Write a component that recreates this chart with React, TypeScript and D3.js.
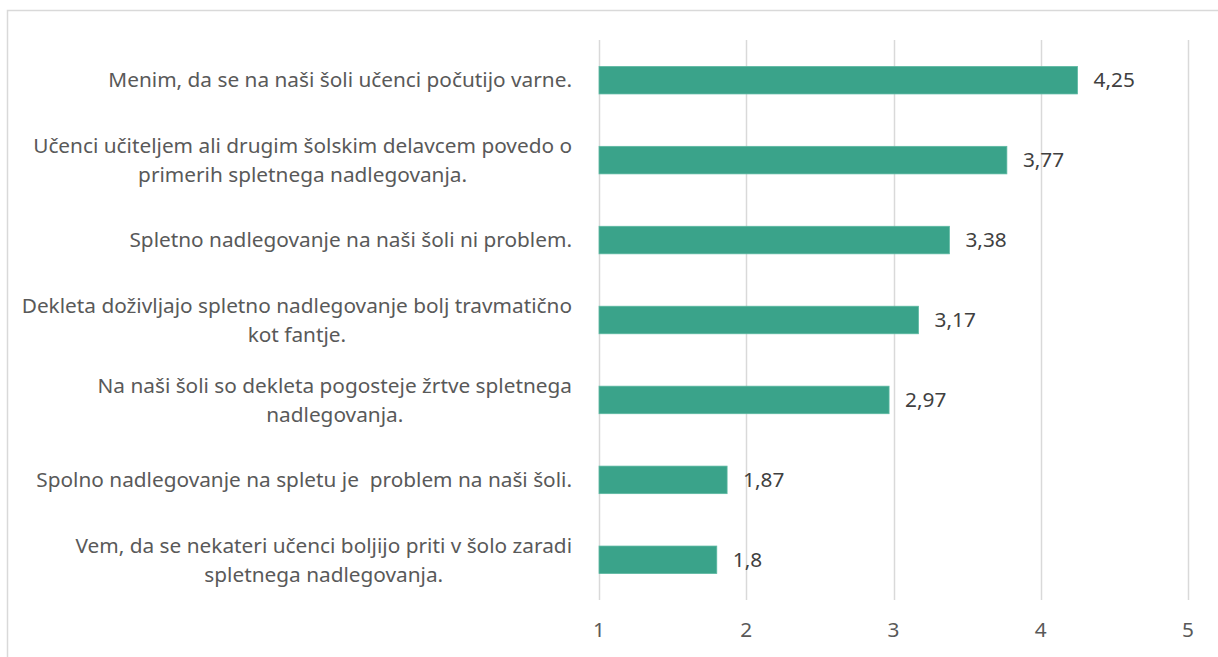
import { useRef, useEffect } from "react";
import * as d3 from "d3";

const categories = [
  "Menim, da se na naši šoli učenci počutijo varne.",
  "Učenci učiteljem ali drugim šolskim delavcem povedo o\nprimerih spletnega nadlegovanja.",
  "Spletno nadlegovanje na naši šoli ni problem.",
  "Dekleta doživljajo spletno nadlegovanje bolj travmatično\nkot fantje.",
  "Na naši šoli so dekleta pogosteje žrtve spletnega \nnadlegovanja.",
  "Spolno nadlegovanje na spletu je  problem na naši šoli.",
  "Vem, da se nekateri učenci boljijo priti v šolo zaradi\nspletnega nadlegovanja.",
];
const values = [4.25, 3.77, 3.38, 3.17, 2.97, 1.87, 1.8];
const xTicks = [1, 2, 3, 4, 5];

const WIDTH = 1218;
const HEIGHT = 657;
const FONT = "'Noto Sans', 'Open Sans', sans-serif";
const FONT_SIZE = "20.8px";
const BAR_COLOR = "#3AA38A";
const GRID = "#D9D9D9";
const LABEL_COLOR = "#595959";

const App = () => {
  const svgRef = useRef<SVGSVGElement>(null);

  useEffect(() => {
    const svg = d3.select(svgRef.current);
    svg.selectAll("*").remove();

    const margin = { top: 40, right: 30, bottom: 57, left: 599 };
    const chartWidth = 1188 - margin.left;
    const chartHeight = HEIGHT - margin.top - margin.bottom;

    svg
      .append("rect")
      .attr("x", 7.5)
      .attr("y", 10.5)
      .attr("width", WIDTH)
      .attr("height", HEIGHT)
      .attr("fill", "#fff")
      .attr("stroke", GRID)
      .attr("stroke-width", 1.5);

    const g = svg.append("g").attr("transform", `translate(${margin.left},${margin.top})`);

    const xScale = d3.scaleLinear().domain([1, 5]).range([0, chartWidth]);
    const yScale = d3
      .scaleBand()
      .domain(categories)
      .range([0, chartHeight])
      .paddingInner(0.655)
      .paddingOuter(0.33);

    g.selectAll(".grid-x")
      .data(xTicks)
      .enter()
      .append("line")
      .attr("x1", (d) => Math.round(xScale(d)) + 0.5)
      .attr("x2", (d) => Math.round(xScale(d)) + 0.5)
      .attr("y1", 0)
      .attr("y2", chartHeight)
      .style("stroke", GRID)
      .style("stroke-width", 1.5);

    g.selectAll(".tick-label")
      .data(xTicks)
      .enter()
      .append("text")
      .attr("x", (d) => xScale(d))
      .attr("y", chartHeight + 30)
      .attr("dy", "0.35em")
      .attr("text-anchor", "middle")
      .style("font-family", FONT)
      .style("font-size", FONT_SIZE)
      .style("fill", LABEL_COLOR)
      .text((d) => d);

    g.selectAll(".bar")
      .data(values)
      .enter()
      .append("rect")
      .attr("x", xScale(1))
      .attr("y", (d, i) => yScale(categories[i]))
      .attr("width", (d) => xScale(d) - xScale(1))
      .attr("height", yScale.bandwidth())
      .attr("fill", BAR_COLOR)
      .attr("stroke", "#5DB9A2")
      .attr("stroke-width", 0.75);

    g.selectAll(".value")
      .data(values)
      .enter()
      .append("text")
      .attr("x", (d) => xScale(d) + 16)
      .attr("y", (d, i) => yScale(categories[i]) + yScale.bandwidth() / 2)
      .attr("dy", "0.35em")
      .style("font-family", FONT)
      .style("font-size", FONT_SIZE)
      .style("fill", "#404040")
      .text((d) => String(d).replace(".", ","));

    // category labels: wrapped lines centred in a block that is right-aligned
    const labelRight = 572;
    const lineHeight = 29;
    categories.forEach((cat) => {
      const lines = cat.split("\n");
      const cy = yScale(cat) + yScale.bandwidth() / 2 + margin.top;
      const t = svg
        .append("text")
        .style("font-family", FONT)
        .style("font-size", FONT_SIZE)
        .style("fill", LABEL_COLOR)
        .attr("text-anchor", "middle")
        .attr("xml:space", "preserve");
      const spans = lines.map((line, i) =>
        t
          .append("tspan")
          .attr("y", cy + (i - (lines.length - 1) / 2) * lineHeight)
          .attr("dy", "0.35em")
          .text(line.trimEnd())
      );
      const maxW = d3.max(spans, (s) => (s.node() as SVGTSpanElement).getComputedTextLength()) || 0;
      spans.forEach((s) => s.attr("x", labelRight - maxW / 2));
    });
  }, []);

  return (
    <div style={{ position: "absolute", left: 0, top: 0, width: WIDTH, height: HEIGHT, overflow: "hidden" }}>
      <svg ref={svgRef} width={WIDTH} height={HEIGHT} style={{ display: "block", background: "#fff" }}></svg>
    </div>
  );
};

export default App;
